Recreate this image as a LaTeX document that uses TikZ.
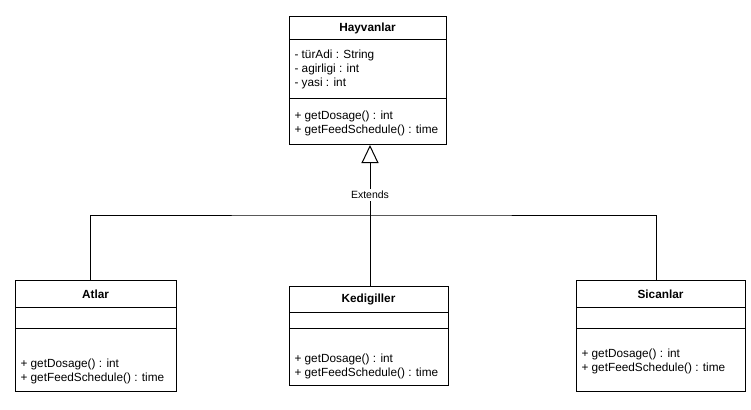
\documentclass[tikz,border=0pt]{standalone}
\usepackage{fontspec}
\setmainfont{Liberation Sans}
\usetikzlibrary{arrows.meta}
\tikzset{
  klass/.style={draw, line width=1pt, anchor=north west, inner sep=0pt},
  kname/.style={font=\fontsize{11.8}{14}\selectfont\bfseries, inner sep=0pt},
  member/.style={font=\fontsize{11.8}{14}\selectfont, align=left, anchor=west, inner sep=0pt},
  extlbl/.style={font=\fontsize{10.5}{12}\selectfont, fill=white, inner sep=1.5pt},
}
\begin{document}
\begin{tikzpicture}[x=1pt, y=-1pt, line width=1pt]
  \useasboundingbox (0,0) rectangle (751,409);

  % parent class
  \node[klass, minimum width=157, minimum height=128] (hay) at (289,16) {};
  \node[kname] (hay-n) at (367.5,28) {Hayvanlar};
  \draw (289,40) -- (446,40);
  \draw (289,99) -- (446,99);
  \node[member] (hay-a) at (294,69) {- türAdi : String\\- agirligi : int\\- yasi : int};
  \node[member] (hay-m) at (294,123) {+ getDosage() : int\\+ getFeedSchedule() : time};

  % child classes
  \node[klass, minimum width=161, minimum height=111] (atl) at (15,280) {};
  \node[kname] (atl-n) at (95.5,294) {Atlar};
  \draw (15,307) -- (176,307);
  \draw (15,328) -- (176,328);
  \node[member] (atl-m) at (20,371) {+ getDosage() : int\\+ getFeedSchedule() : time};

  \node[klass, minimum width=159, minimum height=99] (ked) at (289,286) {};
  \node[kname] (ked-n) at (368.5,299) {Kedigiller};
  \draw (289,312) -- (448,312);
  \draw (289,328) -- (448,328);
  \node[member] (ked-m) at (294,366) {+ getDosage() : int\\+ getFeedSchedule() : time};

  \node[klass, minimum width=169, minimum height=111] (sic) at (576,280) {};
  \node[kname] (sic-n) at (660.5,294) {Sicanlar};
  \draw (576,307) -- (745,307);
  \draw (576,328) -- (745,328);
  \node[member] (sic-m) at (581,361) {+ getDosage() : int\\+ getFeedSchedule() : time};

  % generalisation
  \node[extlbl] (ext) at (370,195) {Extends};
  \coordinate (bus) at (370,215);
  \draw ([xshift=1pt]ked.north) -- (ext);
  \draw[-{Triangle[open, length=18pt, width=17pt]}] (ext) -- (ext |- hay.south);
  \draw ([xshift=-5.5pt]atl.north) |- (bus) -| ([xshift=-5pt]sic.north);
\end{tikzpicture}
\end{document}
